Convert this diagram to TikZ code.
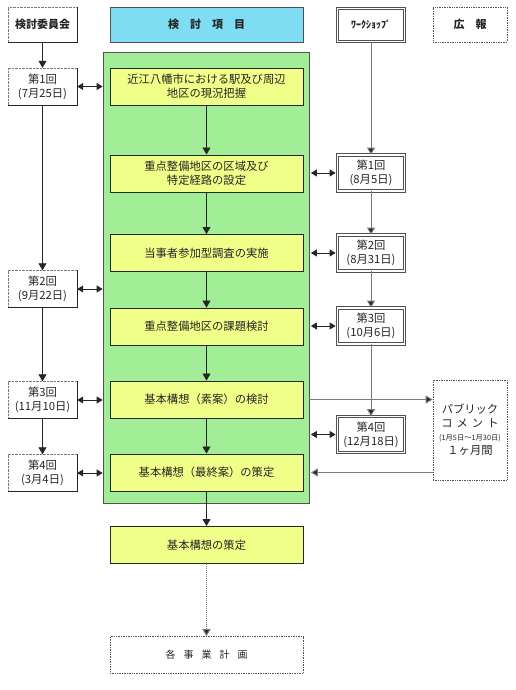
\documentclass[tikz,border=0pt]{standalone}
\usepackage{fontspec}
\setmainfont{Noto Sans CJK JP}
\usetikzlibrary{arrows.meta}
\definecolor{dk}{HTML}{262626}
\definecolor{gr}{HTML}{7A7A7A}
\definecolor{ylw}{HTML}{F0FF88}
\definecolor{grn}{HTML}{A2EE96}
\definecolor{cyn}{HTML}{7EDDF2}
\begin{document}
\begin{tikzpicture}[x=1pt,y=-1pt,
  every node/.style={font=\fontsize{11.3}{14}\selectfont, text=dk, align=center, inner sep=0pt},
  hdr/.style={draw=gr, densely dotted, fill=white, minimum width=69pt, minimum height=35pt, font=\fontsize{11}{13}\selectfont\bfseries},
  lbox/.style={draw=gr, densely dotted, fill=white, minimum width=69pt, minimum height=37pt},
  ybox/.style={draw=dk, line width=0.9pt, fill=ylw, minimum width=193pt, minimum height=37pt},
  wbox/.style={draw=dk!80, line width=0.8pt, double=white, double distance=1.6pt, fill=white, minimum width=67pt, minimum height=36pt},
  dbox/.style={draw=dk!80, densely dotted, line width=0.7pt, fill=white},
  arr/.style={draw=dk, line width=0.8pt, -{Triangle[length=7pt,width=8pt]}},
  garr/.style={draw=gr, line width=1pt, -{Triangle[length=7pt,width=8pt,fill=dk]}},
  dbl/.style={draw=dk, line width=0.8pt, {Triangle[length=6pt,width=7pt]}-{Triangle[length=6pt,width=7pt]}}
]
\useasboundingbox (0,0) rectangle (516,690);
% green area
\node[draw=dk!80, line width=0.7pt, fill=grn, minimum width=206pt, minimum height=451pt] (G) at (206,277.5) {};
% headers
\node[hdr] (H1) at (42.5,24.5) {検討委員会};
\node[hdr, draw=dk!80, solid, fill=cyn, minimum width=193pt] (H2) at (206.5,24.5) {検　討　項　目};
\node[wbox, minimum height=33pt, font=\fontsize{10}{12}\selectfont\bfseries] (H3) at (371,25) {ﾜｰｸｼｮｯﾌﾟ};
\node[dbox, minimum width=74pt, minimum height=35pt, font=\fontsize{11}{13}\selectfont\bfseries] (H4) at (470,24.5) {広　報};
% yellow steps
\node[ybox] (Y1) at (206.5,86.5) {近江八幡市における駅及び周辺\\地区の現況把握};
\node[ybox] (Y2) at (206.5,173.5) {重点整備地区の区域及び\\特定経路の設定};
\node[ybox] (Y3) at (206.5,253) {当事者参加型調査の実施};
\node[ybox] (Y4) at (206.5,326.5) {重点整備地区の課題検討};
\node[ybox] (Y5) at (206.5,399.5) {基本構想（素案）の検討};
\node[ybox] (Y6) at (206.5,472.5) {基本構想（最終案）の策定};
\node[ybox] (Y7) at (206.5,545) {基本構想の策定};
\node[dbox, minimum width=193pt, minimum height=37pt, font=\fontsize{10}{12}\selectfont] (E) at (206.5,655) {各\hspace{8pt}事\hspace{8pt}業\hspace{8pt}計\hspace{8pt}画};
% committee
\node[lbox] (L1) at (42.5,86.5) {第1回\\(7月25日)};
\node[lbox] (L2) at (42.5,289) {第2回\\(9月22日)};
\node[lbox] (L3) at (42.5,400) {第3回\\(11月10日)};
\node[lbox] (L4) at (42.5,473) {第4回\\(3月4日)};
\foreach \n in {H1,L1,L2,L3,L4}{\draw[dk, line width=0.8pt] (\n.north east) -- (\n.south east) -- (\n.south west);}
% workshop
\node[wbox] (W1) at (371,173) {第1回\\(8月5日)};
\node[wbox] (W2) at (371,253) {第2回\\(8月31日)};
\node[wbox] (W3) at (371,326) {第3回\\(10月6日)};
\node[wbox] (W4) at (371,434.5) {第4回\\(12月18日)};
% public comment
\node[dbox, minimum width=74pt, minimum height=100pt] (PC) at (470,430) {パブリック\\コ\hspace{4pt}メ\hspace{4pt}ン\hspace{4pt}ト\\[-1pt]{\fontsize{7.3}{9}\selectfont (1月5日～1月30日)}\\１ヶ月間};
% flow arrows
\draw[arr] (Y1) -- (Y2);
\draw[arr] (Y2) -- (Y3);
\draw[arr] (Y3) -- (Y4);
\draw[arr] (Y4) -- (Y5);
\draw[arr] (Y5) -- (Y6);
\draw[arr] (Y6) -- (Y7);
\draw[draw=gr, line width=1pt, densely dotted, -{Triangle[length=7pt,width=8pt,fill=dk]}] (Y7) -- (E);
% committee column
\draw[arr] (H1) -- (L1);
\draw[arr] (L1) -- (L2);
\draw[arr] (L2) -- (L3);
\draw[arr] (L3) -- (L4);
% workshop column
\draw[garr] (H3) -- (W1);
\draw[garr] (W1) -- (W2);
\draw[garr] (W2) -- (W3);
\draw[garr] (W3) -- (W4);
% two-way links
\foreach \n in {L1,L2,L3,L4}{\draw[dbl] (\n.east) -- (\n.east -| G.west);}
\foreach \n in {W1,W2,W3,W4}{\draw[dbl] (\n.west -| G.east) ++(1.5,0) -- ([xshift=-1.5pt]\n.west);}
% public comment links
\draw[garr] (Y5.east -| G.east) -- (Y5.east -| PC.west);
\draw[garr] (PC.west |- Y6.east) -- ([xshift=1.5pt]G.east |- Y6.east);
\end{tikzpicture}
\end{document}
